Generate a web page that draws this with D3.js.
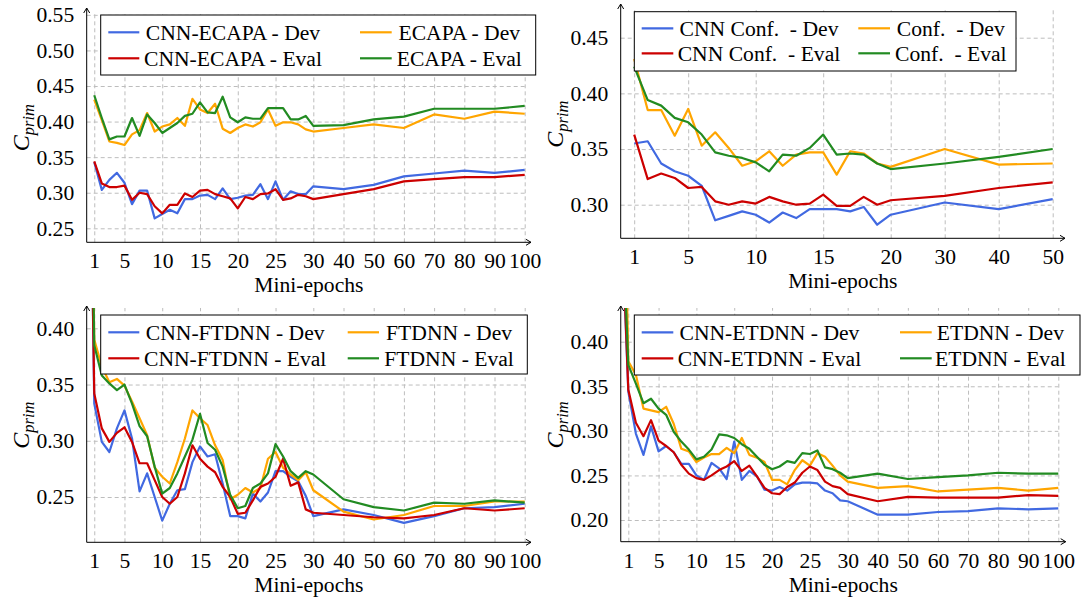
<!DOCTYPE html>
<html>
<head>
<meta charset="utf-8">
<script src="https://cdn.jsdelivr.net/npm/d3@7"></script>
<style>
  body { margin: 0; background: #fff; }
  svg text { font-family: "Liberation Serif", "Times New Roman", serif; white-space: pre; }
</style>
</head>
<body>
<svg id="chart" width="1082" height="601"></svg>
<script>
// ---- data ----
const epochs100 = [1, 2, 3, 4, 5, 6, 7, 8, 9, 10, 11, 12, 13, 14, 15, 16, 17, 18, 19, 20, 21, 22, 23, 24, 25, 26, 27, 28, 29, 30, 40, 50, 60, 70, 80, 90, 100]
const epochs100z = [0, 1, 2, 3, 4, 5, 6, 7, 8, 9, 10, 11, 12, 13, 14, 15, 16, 17, 18, 19, 20, 21, 22, 23, 24, 25, 26, 27, 28, 29, 30, 40, 50, 60, 70, 80, 90, 100]
const epochs50 = [1, 2, 3, 4, 5, 6, 7, 8, 9, 10, 11, 12, 13, 14, 15, 16, 17, 18, 19, 20, 30, 40, 50]

const xTicks100 = [1, 5, 10, 15, 20, 25, 30, 40, 50, 60, 70, 80, 90, 100]
const xTicks50 = [1, 5, 10, 15, 20, 30, 40, 50]

// ECAPA (top left)
const ecapaCnnDev = [0.343, 0.304, 0.318, 0.328, 0.314, 0.284, 0.303, 0.303, 0.264, 0.270, 0.276, 0.271, 0.291, 0.291, 0.296, 0.297, 0.291, 0.306, 0.291, 0.293, 0.296, 0.297, 0.312, 0.291, 0.316, 0.290, 0.302, 0.298, 0.298, 0.309, 0.305, 0.311, 0.323, 0.327, 0.331, 0.328, 0.332]
const ecapaDev = [0.431, 0.402, 0.372, 0.370, 0.367, 0.382, 0.388, 0.412, 0.386, 0.393, 0.396, 0.405, 0.394, 0.432, 0.417, 0.412, 0.425, 0.390, 0.384, 0.391, 0.396, 0.393, 0.399, 0.417, 0.394, 0.399, 0.399, 0.396, 0.389, 0.386, 0.391, 0.396, 0.391, 0.410, 0.404, 0.414, 0.411]
const ecapaCnnEval = [0.344, 0.313, 0.308, 0.308, 0.310, 0.290, 0.300, 0.298, 0.281, 0.271, 0.283, 0.283, 0.299, 0.294, 0.303, 0.304, 0.298, 0.295, 0.292, 0.278, 0.294, 0.291, 0.298, 0.299, 0.305, 0.290, 0.292, 0.297, 0.295, 0.291, 0.298, 0.305, 0.316, 0.319, 0.322, 0.322, 0.325]
const ecapaEval = [0.437, 0.405, 0.375, 0.379, 0.379, 0.405, 0.380, 0.410, 0.398, 0.384, 0.391, 0.398, 0.408, 0.411, 0.427, 0.413, 0.412, 0.435, 0.406, 0.399, 0.406, 0.404, 0.404, 0.419, 0.419, 0.419, 0.403, 0.403, 0.408, 0.394, 0.395, 0.403, 0.407, 0.418, 0.418, 0.418, 0.422]

// Conformer (top right)
const confCnnDev = [0.355, 0.357, 0.337, 0.330, 0.326, 0.317, 0.286, 0.290, 0.294, 0.291, 0.284, 0.293, 0.288, 0.296, 0.296, 0.296, 0.294, 0.298, 0.282, 0.291, 0.302, 0.296, 0.305]
const confDev = [0.431, 0.385, 0.385, 0.362, 0.386, 0.353, 0.365, 0.351, 0.335, 0.339, 0.348, 0.335, 0.345, 0.347, 0.347, 0.327, 0.348, 0.346, 0.337, 0.334, 0.350, 0.336, 0.337]
const confCnnEval = [0.363, 0.323, 0.328, 0.324, 0.315, 0.316, 0.303, 0.300, 0.303, 0.301, 0.307, 0.303, 0.300, 0.301, 0.309, 0.299, 0.299, 0.307, 0.300, 0.304, 0.308, 0.315, 0.320]
const confEval = [0.424, 0.394, 0.389, 0.378, 0.374, 0.363, 0.347, 0.344, 0.342, 0.338, 0.330, 0.345, 0.344, 0.351, 0.363, 0.345, 0.346, 0.345, 0.337, 0.332, 0.337, 0.343, 0.350]

// FTDNN (bottom left), first value is mini-epoch 0
const ftdnnCnnDev = [0.80, 0.333, 0.299, 0.290, 0.311, 0.327, 0.302, 0.255, 0.271, 0.250, 0.229, 0.244, 0.256, 0.257, 0.281, 0.295, 0.286, 0.288, 0.262, 0.233, 0.233, 0.231, 0.253, 0.246, 0.254, 0.273, 0.273, 0.268, 0.264, 0.251, 0.233, 0.239, 0.234, 0.227, 0.233, 0.240, 0.241, 0.244]
const ftdnnDev = [0.85, 0.390, 0.366, 0.352, 0.355, 0.349, 0.335, 0.320, 0.305, 0.276, 0.268, 0.262, 0.281, 0.302, 0.327, 0.320, 0.314, 0.296, 0.283, 0.248, 0.252, 0.258, 0.254, 0.258, 0.284, 0.290, 0.276, 0.270, 0.265, 0.272, 0.256, 0.237, 0.230, 0.234, 0.242, 0.242, 0.246, 0.246]
const ftdnnCnnEval = [0.78, 0.342, 0.311, 0.299, 0.307, 0.312, 0.299, 0.280, 0.280, 0.265, 0.250, 0.244, 0.250, 0.271, 0.296, 0.284, 0.277, 0.272, 0.259, 0.250, 0.235, 0.236, 0.247, 0.259, 0.262, 0.268, 0.284, 0.260, 0.263, 0.239, 0.236, 0.234, 0.232, 0.231, 0.234, 0.240, 0.238, 0.240]
const ftdnnEval = [0.82, 0.385, 0.358, 0.351, 0.345, 0.350, 0.333, 0.313, 0.304, 0.277, 0.253, 0.258, 0.271, 0.286, 0.301, 0.324, 0.298, 0.292, 0.277, 0.252, 0.240, 0.242, 0.258, 0.262, 0.271, 0.297, 0.286, 0.273, 0.267, 0.273, 0.270, 0.248, 0.241, 0.238, 0.245, 0.244, 0.247, 0.245]

// ETDNN (bottom right), first value is mini-epoch 0
const etdnnCnnDev = [0.56, 0.344, 0.297, 0.273, 0.305, 0.277, 0.283, 0.276, 0.263, 0.263, 0.250, 0.245, 0.264, 0.258, 0.246, 0.288, 0.245, 0.255, 0.249, 0.234, 0.233, 0.237, 0.233, 0.240, 0.242, 0.242, 0.241, 0.233, 0.230, 0.222, 0.221, 0.206, 0.206, 0.209, 0.210, 0.213, 0.212, 0.213]
const etdnnDev = [0.80, 0.378, 0.363, 0.325, 0.323, 0.321, 0.327, 0.308, 0.280, 0.277, 0.265, 0.270, 0.274, 0.274, 0.281, 0.275, 0.292, 0.273, 0.270, 0.265, 0.245, 0.245, 0.240, 0.256, 0.267, 0.261, 0.275, 0.271, 0.261, 0.250, 0.243, 0.236, 0.238, 0.232, 0.234, 0.236, 0.233, 0.236]
const etdnnCnnEval = [0.57, 0.346, 0.309, 0.294, 0.312, 0.289, 0.283, 0.276, 0.262, 0.252, 0.247, 0.245, 0.250, 0.256, 0.260, 0.266, 0.255, 0.261, 0.249, 0.236, 0.230, 0.229, 0.237, 0.242, 0.253, 0.260, 0.256, 0.243, 0.238, 0.236, 0.229, 0.221, 0.226, 0.225, 0.225, 0.225, 0.228, 0.227]
const etdnnEval = [0.59, 0.374, 0.353, 0.331, 0.336, 0.325, 0.318, 0.299, 0.288, 0.279, 0.268, 0.271, 0.279, 0.296, 0.295, 0.292, 0.285, 0.280, 0.271, 0.262, 0.257, 0.260, 0.266, 0.264, 0.275, 0.274, 0.278, 0.259, 0.257, 0.253, 0.247, 0.252, 0.246, 0.248, 0.250, 0.253, 0.252, 0.252]

const legendEcapa = ['CNN-ECAPA - Dev', 'ECAPA - Dev', 'CNN-ECAPA - Eval', 'ECAPA - Eval']
const legendConf = ['CNN Conf.  - Dev', 'Conf.  - Dev', 'CNN Conf.  - Eval', 'Conf.  - Eval']
const legendFtdnn = ['CNN-FTDNN - Dev', 'FTDNN - Dev', 'CNN-FTDNN - Eval', 'FTDNN - Eval']
const legendEtdnn = ['CNN-ETDNN - Dev', 'ETDNN - Dev', 'CNN-ETDNN - Eval', 'ETDNN - Eval']

// legend order: blue, orange, red, green (two columns, row-wise)
const colors = ['#4169e1', '#ffa500', '#cc0000', '#228b22']
const FONT = 21.6
const gridColor = '#bdbdbd'

const svg = d3.select('#chart')

// panel layout (pixel positions of each pgfplots-like axis)
const panels = [
    {
        epochs: epochs100, series: [ecapaCnnDev, ecapaDev, ecapaCnnEval, ecapaEval], labels: legendEcapa,
        xTicks: xTicks100, xDomain: [0, 30, 100], xRange: [86.7, 313.3, 524.7],
        yTicks: [0.25, 0.30, 0.35, 0.40, 0.45, 0.50, 0.55], yDomain: [0.25, 0.45], yRange: [228.3, 86],
        axisY: 242.3, top: 13, arrowX: 531, arrowY: 8,
        legend: { x: 100.7, y: 15, w: 435, h: 60, rows: [32.3, 58.3],
                  cols: [{ l1: 108.3, l2: 139.3, tx: 144 }, { l1: 360, l2: 391.7, tx: 396.7 }] }
    },
    {
        epochs: epochs50, series: [confCnnDev, confDev, confCnnEval, confEval], labels: legendConf,
        xTicks: xTicks50, xDomain: [0, 20, 50], xRange: [620.7, 890.7, 1052.7],
        yTicks: [0.30, 0.35, 0.40, 0.45], yDomain: [0.30, 0.45], yRange: [204.7, 37.7],
        axisY: 238.3, top: 10, arrowX: 1065, arrowY: 4,
        legend: { x: 634.3, y: 11.7, w: 381.7, h: 59.3, rows: [28.3, 53.3],
                  cols: [{ l1: 641.7, l2: 673.3, tx: 677.7 }, { l1: 858.3, l2: 890, tx: 895 }] }
    },
    {
        epochs: epochs100z, series: [ftdnnCnnDev, ftdnnDev, ftdnnCnnEval, ftdnnEval], labels: legendFtdnn,
        xTicks: xTicks100, xDomain: [0, 30, 100], xRange: [86.7, 313.3, 524.7],
        yTicks: [0.25, 0.30, 0.35, 0.40], yDomain: [0.25, 0.40], yRange: [497, 328.3],
        axisY: 542.3, top: 308, arrowX: 531, arrowY: 306,
        legend: { x: 100.7, y: 315, w: 426.6, h: 59, rows: [332.3, 358.3],
                  cols: [{ l1: 108.3, l2: 139.3, tx: 144 }, { l1: 347.7, l2: 379, tx: 384.3 }] }
    },
    {
        epochs: epochs100z, series: [etdnnCnnDev, etdnnDev, etdnnCnnEval, etdnnEval], labels: legendEtdnn,
        xTicks: xTicks100, xDomain: [0, 30, 100], xRange: [620.75, 847.7, 1058.3],
        yTicks: [0.20, 0.25, 0.30, 0.35, 0.40], yDomain: [0.20, 0.40], yRange: [520, 341.7],
        axisY: 541.7, top: 308, arrowX: 1065.7, arrowY: 306,
        legend: { x: 634.3, y: 315, w: 445.7, h: 60, rows: [332.3, 358.3],
                  cols: [{ l1: 641.7, l2: 673.3, tx: 677.7 }, { l1: 900, l2: 931.7, tx: 935 }] }
    }
]

function styleTicks(a) {
    a.attr('font-family', null).attr('font-size', FONT)
    a.select('.domain').remove()
    a.selectAll('text').attr('fill', '#000')
}

function drawPanel(p, idx) {
    const g = svg.append('g')
    const x = d3.scaleLinear().domain(p.xDomain).range(p.xRange)
    const y = d3.scaleLinear().domain(p.yDomain).range(p.yRange)
    const left = p.xRange[0]
    const right = x(p.xTicks[p.xTicks.length - 1])

    // dashed grid
    g.append('g')
        .attr('transform', `translate(0,${p.axisY})`)
        .call(d3.axisBottom(x).tickValues(p.xTicks).tickSize(-(p.axisY - p.top)).tickFormat(''))
        .call(a => a.select('.domain').remove())
        .call(a => a.selectAll('line').attr('stroke', gridColor).attr('stroke-dasharray', '4,3'))
    g.append('g')
        .attr('transform', `translate(${left},0)`)
        .call(d3.axisLeft(y).tickValues(p.yTicks).tickSize(-(right - left)).tickFormat(''))
        .call(a => a.select('.domain').remove())
        .call(a => a.selectAll('line').attr('stroke', gridColor).attr('stroke-dasharray', '4,3'))

    // series lines, clipped to the plot area
    const clipId = `clip-${idx}`
    svg.append('clipPath').attr('id', clipId)
        .append('rect')
        .attr('x', left).attr('y', p.top)
        .attr('width', right - left + 3).attr('height', p.axisY - p.top)
    const line = d3.line()
        .x((d, i) => x(p.epochs[i]))
        .y(d => y(d))
    g.append('g')
        .attr('clip-path', `url(#${clipId})`)
        .selectAll('path')
        .data(p.series)
        .join('path')
        .attr('d', d => line(d))
        .attr('fill', 'none')
        .attr('stroke', (d, i) => colors[i])
        .attr('stroke-width', 2.2)
        .attr('stroke-linejoin', 'round')

    // axis lines with arrows
    g.append('line').attr('x1', left).attr('x2', p.arrowX).attr('y1', p.axisY).attr('y2', p.axisY)
        .attr('stroke', '#000').attr('stroke-width', 1)
    g.append('line').attr('x1', left).attr('x2', left).attr('y1', p.axisY).attr('y2', p.arrowY)
        .attr('stroke', '#000').attr('stroke-width', 1)
    g.append('path')
        .attr('d', `M${p.arrowX - 5},${p.axisY - 3} L${p.arrowX},${p.axisY} L${p.arrowX - 5},${p.axisY + 3}`)
        .attr('fill', 'none').attr('stroke', '#000').attr('stroke-width', 1)
    g.append('path')
        .attr('d', `M${left - 3},${p.arrowY + 5} L${left},${p.arrowY} L${left + 3},${p.arrowY + 5}`)
        .attr('fill', 'none').attr('stroke', '#000').attr('stroke-width', 1)

    // tick labels
    g.append('g')
        .attr('transform', `translate(0,${p.axisY})`)
        .call(d3.axisBottom(x).tickValues(p.xTicks).tickSize(0).tickPadding(10.7).tickFormat(d3.format('d')))
        .call(styleTicks)
    g.append('g')
        .attr('transform', `translate(${left},0)`)
        .call(d3.axisLeft(y).tickValues(p.yTicks).tickSize(0).tickPadding(12.5).tickFormat(d3.format('.2f')))
        .call(styleTicks)

    // axis titles
    g.append('text')
        .attr('x', (left + p.arrowX) / 2)
        .attr('y', p.axisY + 50)
        .attr('text-anchor', 'middle')
        .attr('font-size', FONT)
        .text('Mini-epochs')
    const yl = g.append('text')
        .attr('transform', `translate(${left - 58},${(p.top + p.axisY) / 2}) rotate(-90)`)
        .attr('text-anchor', 'middle')
    yl.append('tspan').attr('font-size', 24).attr('font-style', 'italic').text('C')
    yl.append('tspan').attr('font-size', 16.5).attr('font-style', 'italic').attr('dy', 5).text('prim')

    // legend
    const L = p.legend
    const lg = g.append('g')
    lg.append('rect')
        .attr('x', L.x).attr('y', L.y).attr('width', L.w).attr('height', L.h)
        .attr('fill', '#fff').attr('stroke', '#000').attr('stroke-width', 1)
    const entries = lg.selectAll('g.entry')
        .data(p.labels)
        .join('g')
        .attr('class', 'entry')
    entries.append('line')
        .attr('x1', (d, i) => L.cols[i % 2].l1)
        .attr('x2', (d, i) => L.cols[i % 2].l2)
        .attr('y1', (d, i) => L.rows[Math.floor(i / 2)])
        .attr('y2', (d, i) => L.rows[Math.floor(i / 2)])
        .attr('stroke', (d, i) => colors[i])
        .attr('stroke-width', 2.2)
    const texts = entries.append('text')
        .attr('y', (d, i) => L.rows[Math.floor(i / 2)] + 7.2)
        .attr('font-size', FONT)
        .attr('text-anchor', 'middle')
        .text(d => d)
    // pgfplots centres legend cells: centre on the widest text of each column
    const widths = texts.nodes().map(n => n.getComputedTextLength())
    texts.attr('x', (d, i) => {
        const col = i % 2
        const w = Math.max(widths[col], widths[col + 2])
        return L.cols[col].tx + w / 2
    })
}

panels.forEach(drawPanel)
</script>
</body>
</html>
